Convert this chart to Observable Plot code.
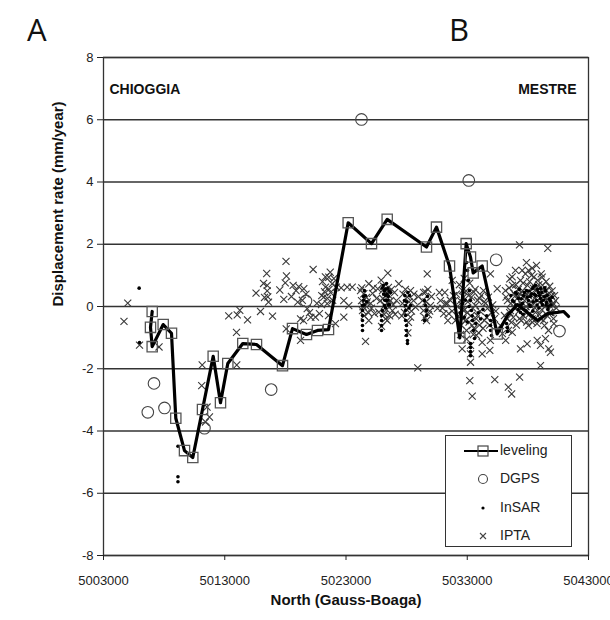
<!DOCTYPE html>
<html>
<head>
<meta charset="utf-8">
<script src="https://cdn.jsdelivr.net/npm/d3@7"></script>
<script src="https://cdn.jsdelivr.net/npm/@observablehq/plot@0.6"></script>
<style>
  html, body { margin: 0; padding: 0; background: white; }
  #wrap { position: relative; width: 610px; height: 620px; font-family: "Liberation Sans", Arial, sans-serif; }
  .panel { position: absolute; top: 8px; font-family: "Open Sans", "Noto Sans", sans-serif; font-size: 31px; color: #111; }
  #legend { position: absolute; left: 445px; top: 435px; width: 127px; height: 112px; border: 1.3px solid #333; background: white; box-sizing: border-box; }
  .row { position: absolute; left: 0; height: 20px; width: 125px; }
  .row svg { position: absolute; left: 0; top: 0; }
  .row span { position: absolute; left: 54px; top: 1px; font-size: 14px; color: #222; }
</style>
</head>
<body>
<div id="wrap">
  <div class="panel" style="left:27px">A</div>
  <div class="panel" style="left:449px">B</div>
  <div id="chart"></div>
  <div id="legend">
    <div class="row" style="top:5px"><svg width="54" height="20"><line x1="18" y1="10" x2="52" y2="10" stroke="black" stroke-width="2"/><rect x="32" y="5" width="10" height="10" fill="none" stroke="#444" stroke-width="1.2"/></svg><span>leveling</span></div>
    <div class="row" style="top:33px"><svg width="54" height="20"><circle cx="37" cy="10" r="4.5" fill="none" stroke="#444" stroke-width="1.1"/></svg><span>DGPS</span></div>
    <div class="row" style="top:62px"><svg width="54" height="20"><circle cx="37" cy="10" r="1.6" fill="black"/></svg><span>InSAR</span></div>
    <div class="row" style="top:90px"><svg width="54" height="20"><path d="M34,7L40,13M40,7L34,13" stroke="#444" stroke-width="1.1"/></svg><span>IPTA</span></div>
  </div>
</div>
<script>
// Tick values
const xTicks = [5003000, 5013000, 5023000, 5033000, 5043000];
const yTicks = [-8, -6, -4, -2, 0, 2, 4, 6, 8];

// [North (Gauss-Boaga), displacement rate mm/year]
const leveling = [
  [5007016,-0.16],[5006876,-0.67],[5007016,-1.29],[5007923,-0.58],[5008608,-0.86],
  [5008963,-3.59],[5009680,-4.63],[5010364,-4.85],[5011165,-3.31],[5012047,-1.60],
  [5012649,-3.09],[5013251,-1.83],[5014488,-1.19],[5015618,-1.22],[5017762,-1.90],
  [5018587,-0.71],[5019741,-0.90],[5020649,-0.77],[5021556,-0.74],[5023180,2.69],
  [5025102,2.02],[5026397,2.80],[5029638,1.91],[5030463,2.55],[5031535,1.30],
  [5032384,-1.01],[5032912,2.02],[5033266,1.59],[5033489,1.08],[5034231,1.30],
  [5035468,-0.88],[5036320,-0.29],[5037140,0.06],[5037970,-0.19],[5038790,-0.45],
  [5039620,-0.23],[5040440,-0.19],[5040940,-0.16],[5041350,-0.32]
];
const levelingBenchmarks = 31; // first points carry the square symbol

const dgps = [
  [5006653,-3.40],[5007165,-2.47],[5008031,-3.26],[5011330,-3.91],[5016830,-2.67],
  [5019700,0.18],[5024277,6.01],[5033126,4.05],[5035385,1.50],[5040606,-0.79]
];

const insar = [
  [5005940,0.59],[5005970,-1.16],[5009140,-4.49],[5009140,-5.47],[5009140,-5.63],
  [5024360,0.03],[5024360,-0.13],[5024360,-0.29],[5024360,-0.45],[5024360,-0.61],[5024360,-0.77],[5024440,0.32],[5024520,0.51],
  [5024450,0.20],[5024500,0.05],[5024600,0.35],[5024700,0.15],
  [5026090,0.68],[5026170,0.51],[5026260,0.35],[5026340,0.19],[5026170,0.03],[5026010,-0.13],[5025930,-0.29],[5025930,-0.45],
  [5025930,-0.61],[5025930,-0.77],[5026420,0.58],[5026500,0.32],[5026590,0.06],[5026340,0.74],[5026670,0.45],
  [5026000,0.60],[5026100,0.40],[5026200,0.20],[5026250,0.55],[5026400,0.40],[5026450,0.20],[5026500,0.05],[5026550,0.50],[5026250,-0.05],
  [5027820,0.19],[5027910,0.03],[5027910,-0.13],[5027910,-0.29],[5027910,-0.45],[5027990,-0.61],[5027990,-0.77],[5027990,-0.93],
  [5028070,-1.09],[5028070,-1.19],[5028240,0.35],[5028320,0.03],
  [5027850,0.35],[5028000,0.15],[5028100,0.45],[5028200,-0.05],
  [5029470,0.19],[5029560,0.03],[5029640,-0.13],[5029640,-0.29],[5029470,-0.45],[5029720,0.32],
  [5033270,-1.19],[5033270,-1.32],[5033270,-1.45],[5033270,-1.58],[5032940,1.41],[5033020,1.16],[5033100,0.84],[5033180,0.51],
  [5033270,0.19],[5033350,-0.13],[5033430,-0.45],[5033510,-0.77],[5033600,-1.03],
  [5032400,-0.20],[5032600,0.10],[5032750,-0.35],[5032850,0.20],[5033000,-0.50],[5033150,0.00],[5033400,-0.30],[5033700,-0.55],
  [5033900,-0.20],[5034100,-0.40],[5034300,-0.10],[5034600,-0.30],
  [5034920,-0.45],[5034920,-0.61],[5034920,-0.77],[5035000,-0.93],
  [5036240,-0.55],[5036320,-0.68],[5036320,-0.80],
  [5036730,0.19],[5036980,0.45],[5037230,0.26],[5037390,0.03],[5037640,0.35],[5037890,0.51],[5038050,0.19],[5038210,0.32],
  [5038380,0.58],[5038540,0.39],[5038710,0.19],[5038870,0.45],[5039040,0.26],[5039200,0.06],[5039370,0.32],[5039530,0.13],
  [5039700,0.00],[5039860,0.19],[5038210,0.00],[5038630,0.68],[5037800,-0.13],[5037390,-0.19],[5039040,0.58],[5039450,0.51],
  [5036600,0.35],[5036850,0.15],[5037000,0.05],[5037100,0.40],[5037300,0.55],[5037450,0.25],[5037550,0.10],[5037700,0.45],
  [5037950,0.30],[5038100,0.50],[5038150,0.05],[5038300,0.40],[5038450,0.15],[5038500,0.65],[5038650,0.35],[5038750,0.05],
  [5038800,0.55],[5038950,0.35],[5039100,0.15],[5039150,0.45],[5039300,0.20],[5039400,0.60],[5039500,0.05],[5039600,0.35],
  [5039750,0.25],[5039900,0.05],[5040000,0.30],[5037200,-0.10],[5037600,-0.25],[5038400,-0.15],[5038900,-0.05],[5039650,-0.10]
];

const ipta = [
  [5005000,0.11],[5004690,-0.48],[5005970,-1.24],[5007580,-1.30],[5011140,-1.88],[5011100,-2.54],[5011540,-3.23],[5011740,-3.55],
  [5011410,-3.71],[5013330,-0.30],[5014030,-0.27],[5014240,-0.12],[5014880,-0.43],[5015950,-0.16],[5016940,-0.31],[5013970,-0.83],
  [5013990,-1.88],[5015580,0.43],[5016460,1.06],[5016500,0.68],[5016500,0.50],[5016550,0.31],[5016610,0.14],[5018050,1.45],
  [5018090,0.98],[5017990,0.76],[5017540,0.53],[5017870,0.23],[5018640,0.68],[5018880,0.51],[5019100,0.64],[5019020,0.14],
  [5019250,-0.40],[5019250,-1.09],[5018070,-0.72],[5019990,-0.20],[5016200,0.74],[5016280,0.29],[5018500,0.32],
  [5020290,1.19],[5019520,0.57],[5019800,-0.07],[5020480,-0.34],[5019500,-0.45],[5020810,-0.23],
  [5019400,0.20],[5019700,0.40],[5020100,-0.35],[5020600,0.10],[5021000,0.35],[5021300,0.95],[5021600,0.55],[5021900,0.20],
  [5022000,0.90],[5021700,1.10],
  [5021580,0.94],[5021310,0.62],[5021170,0.30],[5021450,0.09],[5021860,0.73],[5021060,0.80],[5021720,0.45],[5021230,0.48],
  [5021470,0.26],[5020980,0.06],[5022210,0.62],[5022600,0.60],[5023100,0.62],[5023510,0.62],[5022820,0.19],[5023230,0.03],
  [5022820,-0.34],[5022130,-0.55],[5021560,-0.29],
  [5024880,0.73],[5024470,0.41],[5024280,0.19],[5024610,0.03],[5024360,-0.13],[5024880,-0.45],[5024610,-1.12],[5025190,0.42],
  [5025030,0.10],[5025520,0.26],[5025620,0.57],[5025350,-0.23],[5024200,0.51],[5024690,0.29],
  [5024300,0.60],[5024500,-0.30],[5024750,0.15],[5024850,-0.20],[5025100,-0.05],[5025250,0.60],[5024400,0.00],
  [5026450,1.07],[5026260,-0.40],[5026400,-0.45],[5025700,-0.18],[5027350,0.73],[5027000,0.45],[5026010,0.51],[5026670,0.19],
  [5026830,-0.13],[5025840,0.19],[5026170,0.03],[5026500,0.61],[5027160,0.19],[5025930,-0.64],
  [5025900,0.85],[5026050,0.25],[5026150,-0.25],[5026300,0.45],[5026350,-0.10],[5026550,0.35],[5026600,-0.30],[5026750,0.55],
  [5026900,0.05],[5027050,-0.25],[5026100,0.65],[5026450,0.10],
  [5028320,0.51],[5028050,0.30],[5028730,-0.02],[5028320,-0.34],[5027660,0.10],[5027820,-0.19],[5028570,0.19],[5028920,-1.97],
  [5028150,-0.51],[5028980,0.32],
  [5027700,0.40],[5027900,0.55],[5028000,-0.10],[5028200,0.15],[5028400,-0.15],[5028600,0.40],[5027600,-0.30],[5028100,-0.85],
  [5029700,1.05],[5029560,0.46],[5029640,-0.45],[5029310,0.19],[5029970,0.03],[5029390,-0.13],[5030050,0.32],[5029800,-0.26],
  [5029400,0.45],[5029600,0.15],[5029750,0.55],[5029900,-0.15],[5029500,-0.35],
  [5030790,0.19],[5031060,-0.23],[5031350,0.09],[5031480,-0.23],[5031760,0.84],[5031200,0.10],[5030550,-0.06],[5031860,0.35],
  [5032030,-0.45],
  [5030700,0.45],[5030950,-0.05],[5031150,0.45],[5031400,-0.45],[5031600,0.20],[5031750,-0.15],
  [5032580,-1.36],[5033270,-1.25],[5033270,-1.52],[5033270,-1.79],[5033210,-2.38],[5033410,-2.88],[5033540,0.46],[5033410,-0.61],
  [5032440,0.19],[5032690,-0.13],[5032850,-0.45],[5033100,0.35],[5033680,0.03],[5033840,-0.29],[5032600,0.51],[5032940,-0.77],
  [5033760,-0.93],[5034010,0.26],[5034230,-1.15],[5034230,-1.52],[5034910,-1.09],[5034860,-1.41],[5034910,1.05],[5035470,0.57],
  [5035270,-2.35],[5034420,-0.45],[5034670,-0.06],[5035240,-0.39],[5035730,-0.61],[5034340,0.51],
  [5032200,0.00],[5032700,0.30],[5033000,-0.20],[5033500,-0.90],[5034000,-0.60],[5032500,-0.60],[5034500,0.10],[5035000,-0.20],
  [5032100,0.40],[5032250,-0.30],[5032350,0.70],[5032450,-0.90],[5032550,0.05],[5032650,-0.40],[5032750,0.90],[5032800,-0.10],
  [5032900,0.50],[5032950,-1.05],[5033050,0.15],[5033150,-0.50],[5033200,0.75],[5033300,-0.30],[5033350,0.30],[5033450,-0.05],
  [5033550,-0.70],[5033650,0.55],[5033750,-0.40],[5033850,0.20],[5033950,-0.85],[5034050,-0.15],[5034150,0.35],[5034300,-0.70],
  [5034400,0.15],[5034600,-0.35],[5034750,0.30],[5034850,-0.60],[5035100,0.05],[5035350,-0.15],
  [5036510,0.89],[5037310,1.98],[5039640,1.87],[5037530,1.16],[5038350,1.23],[5039180,0.94],[5037390,-1.36],[5037940,-1.20],
  [5038770,-1.09],[5039040,-1.25],[5039720,-1.36],[5039860,-1.47],[5039040,-1.90],[5036710,-0.83],[5036170,-1.09],[5036390,-2.59],
  [5036660,-2.81],[5037320,-2.27],
  [5036150,0.51],[5036320,0.19],[5036560,-0.13],[5036730,0.68],[5036980,0.35],[5037150,0.03],[5037310,-0.39],[5037390,0.84],
  [5037560,0.51],[5037730,0.19],[5037810,-0.19],[5037970,0.68],[5038050,0.35],[5038220,0.03],[5038300,1.00],[5038460,0.58],
  [5038550,0.26],[5038630,-0.19],[5038800,0.84],[5038880,0.45],[5038960,0.13],[5039040,-0.39],[5039210,0.68],[5039290,0.32],
  [5039450,0.00],[5039540,0.51],[5039700,0.19],[5039790,-0.19],[5039950,0.35],[5040030,0.03],[5036640,-0.51],[5038050,-0.61],
  [5038380,-0.51],[5039370,-0.61],[5036070,-0.29],[5036980,1.16],[5037880,1.41],[5038710,1.32],[5038050,1.16],[5035900,-0.87],
  [5036400,-0.77],[5040280,0.19],[5040110,-0.39],[5039700,-0.77],[5039450,-1.03],
  [5036200,0.30],[5036300,-0.40],[5036450,0.60],[5036500,-0.20],[5036600,0.10],[5036700,0.95],[5036800,-0.35],[5036850,0.42],
  [5036900,-0.05],[5037000,0.70],[5037050,-0.60],[5037100,0.25],[5037200,0.55],[5037250,-0.15],[5037350,0.40],[5037450,-0.45],
  [5037500,0.05],[5037600,0.75],[5037650,-0.30],[5037700,0.30],[5037800,1.05],[5037850,0.00],[5037900,-0.50],[5038000,0.45],
  [5038100,-0.25],[5038150,0.80],[5038250,0.15],[5038350,-0.40],[5038400,0.40],[5038500,0.95],[5038600,-0.05],[5038650,0.55],
  [5038750,-0.55],[5038800,0.20],[5038900,0.70],[5038950,-0.25],[5039050,0.40],[5039100,1.05],[5039150,-0.10],[5039250,0.55],
  [5039300,-0.45],[5039400,0.25],[5039500,0.80],[5039600,-0.30],[5039650,0.40],[5039750,0.05],[5039800,0.65],[5039900,-0.20],
  [5040000,0.50],[5040100,0.10],[5040150,-0.55],[5040200,0.35],[5040350,-0.05]
];

const X = d => d[0], Y = d => d[1];

const chart = Plot.plot({
  width: 610,
  height: 620,
  marginLeft: 103,
  marginRight: 22,
  marginTop: 57,
  marginBottom: 65,
  x: {domain: [5003000, 5043000]},
  y: {domain: [-8, 8]},
  style: {fontFamily: "'Liberation Sans', Arial, sans-serif", fontSize: "13px", color: "#222", background: "white"},
  marks: [
    Plot.ruleY(yTicks, {stroke: "#333", strokeWidth: 1.3}),
    Plot.frame({stroke: "#333", strokeWidth: 1.3}),
    Plot.axisY({ticks: yTicks, tickSize: 6, tickPadding: 4, tickFormat: d => String(d), label: null, fontSize: 13}),
    Plot.axisX({ticks: xTicks, tickSize: 5, tickPadding: 15, tickFormat: d => String(d), label: null, fontSize: 13}),
    Plot.dot(ipta, {x: X, y: Y, symbol: "times", r: 3.3, stroke: "#3a3a3a", strokeWidth: 1.1}),
    Plot.dot(insar, {x: X, y: Y, r: 1.8, fill: "black"}),
    Plot.dot(dgps, {x: X, y: Y, r: 5.8, stroke: "#444", strokeWidth: 1.1, fill: "none"}),
    Plot.line(leveling, {x: X, y: Y, stroke: "black", strokeWidth: 3.2, strokeLinejoin: "round"}),
    Plot.dot(leveling.slice(0, levelingBenchmarks), {x: X, y: Y, symbol: "square", r: 5.8, stroke: "#555", strokeWidth: 1.3, fill: "none"}),
    Plot.text(["CHIOGGIA"], {frameAnchor: "top-left", dx: 6, dy: 27, fontWeight: "bold", fontSize: 14, fill: "#111", textAnchor: "start"}),
    Plot.text(["MESTRE"], {frameAnchor: "top-right", dx: -12, dy: 27, fontWeight: "bold", fontSize: 14, fill: "#111", textAnchor: "end"}),
    Plot.text(["Displacement rate (mm/year)"], {frameAnchor: "left", dx: -45, rotate: -90, fontWeight: "bold", fontSize: 15, fill: "#111"}),
    Plot.text(["North (Gauss-Boaga)"], {frameAnchor: "bottom", dy: 49, fontWeight: "bold", fontSize: 15, fill: "#111"})
  ]
});
document.getElementById("chart").appendChild(chart);
</script>
</body>
</html>
